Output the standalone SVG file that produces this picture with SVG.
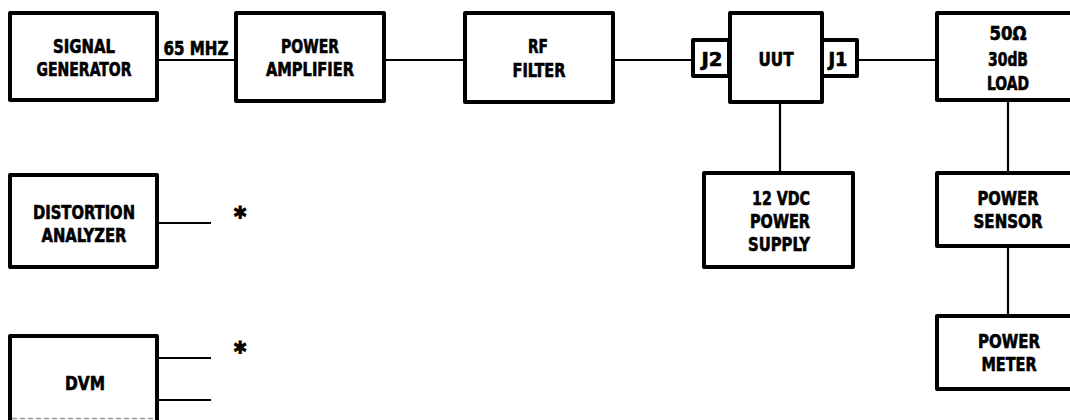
<svg xmlns="http://www.w3.org/2000/svg" width="1070" height="420" viewBox="0 0 1070 420">
<style>
.box{fill:#fff;stroke:#000;stroke-width:4;stroke-linejoin:round}
.ln{fill:none;stroke:#000;stroke-width:2.2}
text{font-family:"DejaVu Sans Condensed","DejaVu Sans","Liberation Sans",sans-serif;font-weight:bold;font-size:19px;fill:#000;stroke:#000;stroke-width:0.6;text-anchor:middle}
.ast{font-size:26px;stroke-width:1.2}
</style>
<rect width="1070" height="420" fill="#fff"/>
<g id="connectors">
<line class="ln" x1="157" y1="60" x2="237" y2="60"/>
<line class="ln" x1="384" y1="60" x2="465" y2="60"/>
<line class="ln" x1="613" y1="60" x2="693" y2="60"/>
<line class="ln" x1="857" y1="60" x2="937" y2="60"/>
<line class="ln" x1="780" y1="102" x2="780" y2="173"/>
<line class="ln" x1="1008" y1="100" x2="1008" y2="173"/>
<line class="ln" x1="1008" y1="246" x2="1008" y2="316"/>
<line class="ln" x1="157" y1="223" x2="211" y2="223"/>
<line class="ln" x1="157" y1="358" x2="211" y2="358"/>
<line class="ln" x1="157" y1="400" x2="211" y2="400"/>
<text x="196" y="55" textLength="65" lengthAdjust="spacingAndGlyphs">65 MHZ</text>
<text class="ast" x="240" y="226">*</text>
<text class="ast" x="240" y="361">*</text>
</g>
<g id="signal-generator">
<rect class="box" x="10" y="13" width="147" height="87"/>
<text x="84" y="53" textLength="62" lengthAdjust="spacingAndGlyphs">SIGNAL</text>
<text x="84" y="76" textLength="95" lengthAdjust="spacingAndGlyphs">GENERATOR</text>
</g>
<g id="power-amplifier">
<rect class="box" x="236" y="13" width="148" height="88"/>
<text x="310" y="53" textLength="58" lengthAdjust="spacingAndGlyphs">POWER</text>
<text x="310" y="76" textLength="88" lengthAdjust="spacingAndGlyphs">AMPLIFIER</text>
</g>
<g id="rf-filter">
<rect class="box" x="465" y="13" width="148" height="89"/>
<text x="538" y="53" textLength="20" lengthAdjust="spacingAndGlyphs">RF</text>
<text x="539" y="77" textLength="53" lengthAdjust="spacingAndGlyphs">FILTER</text>
</g>
<g id="uut">
<rect class="box" x="730" y="13" width="92" height="89"/>
<text x="776" y="66" textLength="35" lengthAdjust="spacingAndGlyphs">UUT</text>
</g>
<g id="j2">
<rect class="box" x="693" y="40" width="36" height="36"/>
<text x="712" y="66" textLength="21" lengthAdjust="spacingAndGlyphs">J2</text>
</g>
<g id="j1">
<rect class="box" x="822" y="40" width="35" height="36"/>
<text x="838" y="66" textLength="19" lengthAdjust="spacingAndGlyphs">J1</text>
</g>
<g id="load">
<rect class="box" x="937" y="13" width="150" height="87"/>
<text x="1008" y="40" textLength="37" lengthAdjust="spacingAndGlyphs">50Ω</text>
<text x="1008" y="66" textLength="40" lengthAdjust="spacingAndGlyphs">30dB</text>
<text x="1008" y="90" textLength="42" lengthAdjust="spacingAndGlyphs">LOAD</text>
</g>
<g id="power-supply">
<rect class="box" x="704" y="173" width="149" height="94"/>
<text x="781" y="205" textLength="58" lengthAdjust="spacingAndGlyphs">12 VDC</text>
<text x="780" y="228" textLength="60" lengthAdjust="spacingAndGlyphs">POWER</text>
<text x="779" y="251" textLength="62" lengthAdjust="spacingAndGlyphs">SUPPLY</text>
</g>
<g id="power-sensor">
<rect class="box" x="937" y="173" width="150" height="73"/>
<text x="1008" y="205" textLength="61" lengthAdjust="spacingAndGlyphs">POWER</text>
<text x="1008" y="228" textLength="69" lengthAdjust="spacingAndGlyphs">SENSOR</text>
</g>
<g id="power-meter">
<rect class="box" x="937" y="316" width="150" height="73"/>
<text x="1009" y="348" textLength="62" lengthAdjust="spacingAndGlyphs">POWER</text>
<text x="1009" y="371" textLength="55" lengthAdjust="spacingAndGlyphs">METER</text>
</g>
<g id="distortion-analyzer">
<rect class="box" x="10" y="175" width="147" height="92"/>
<text x="84" y="219" textLength="102" lengthAdjust="spacingAndGlyphs">DISTORTION</text>
<text x="84" y="242" textLength="85" lengthAdjust="spacingAndGlyphs">ANALYZER</text>
</g>
<g id="dvm">
<path class="box" d="M10,424 V336 H157 V424"/>
<line x1="12" y1="418.5" x2="155" y2="418.5" stroke="#999" stroke-width="1.5" stroke-dasharray="5 3"/>
<text x="85" y="390" textLength="40" lengthAdjust="spacingAndGlyphs">DVM</text>
</g>
</svg>
